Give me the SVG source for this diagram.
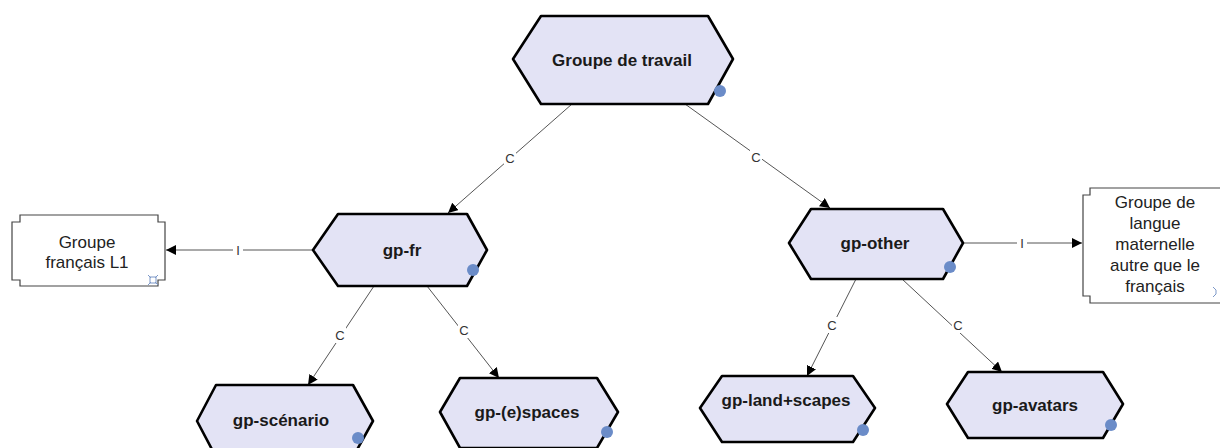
<svg xmlns="http://www.w3.org/2000/svg" width="1220" height="448" viewBox="0 0 1220 448">
<style>
.hex{fill:#e3e3f5;stroke:#000;stroke-width:2.6;stroke-linejoin:round}
.dot{fill:#6b8cc8}
.t{font-family:"Liberation Sans",Arial,sans-serif;font-weight:bold;font-size:17px;fill:#1a1a1a;text-anchor:middle;dominant-baseline:central}
.bt{font-family:"Liberation Sans",Arial,sans-serif;font-size:17px;fill:#222;text-anchor:middle}
.box{fill:#fff;stroke:#444;stroke-width:1.2}
.ln{stroke:#555;stroke-width:1;fill:none}
.lbl{font-family:"Liberation Sans",Arial,sans-serif;font-size:13px;fill:#333;text-anchor:middle;dominant-baseline:central}
.lb{fill:#fff}
</style>
<defs>
<marker id="ah" viewBox="0 0 10 10" refX="10" refY="5" markerWidth="10" markerHeight="10" markerUnits="userSpaceOnUse" orient="auto">
<path d="M0,0 L10,5 L0,10 z" fill="#000"/>
</marker>
</defs>
<g id="connectors">
<line class="ln" x1="572" y1="104" x2="448" y2="213" marker-end="url(#ah)"/>
<rect class="lb" x="504" y="150" width="12" height="16"/><text class="lbl" x="510" y="158">C</text>
<line class="ln" x1="685" y1="104" x2="830" y2="208" marker-end="url(#ah)"/>
<rect class="lb" x="750" y="149" width="12" height="16"/><text class="lbl" x="756" y="157">C</text>
<line class="ln" x1="313" y1="250" x2="166" y2="250" marker-end="url(#ah)"/>
<rect class="lb" x="233" y="242" width="10" height="16"/><text class="lbl" x="238" y="250">I</text>
<line class="ln" x1="963" y1="243" x2="1082" y2="243" marker-end="url(#ah)"/>
<rect class="lb" x="1017" y="235" width="10" height="16"/><text class="lbl" x="1022" y="243">I</text>
<line class="ln" x1="374" y1="286" x2="308" y2="385" marker-end="url(#ah)"/>
<rect class="lb" x="334" y="327" width="12" height="16"/><text class="lbl" x="340" y="335">C</text>
<line class="ln" x1="427" y1="286" x2="499" y2="378" marker-end="url(#ah)"/>
<rect class="lb" x="458" y="322" width="12" height="16"/><text class="lbl" x="464" y="330">C</text>
<line class="ln" x1="856" y1="279" x2="807" y2="376" marker-end="url(#ah)"/>
<rect class="lb" x="826" y="317" width="12" height="16"/><text class="lbl" x="832" y="325">C</text>
<line class="ln" x1="902" y1="279" x2="1002" y2="372" marker-end="url(#ah)"/>
<rect class="lb" x="952" y="317" width="12" height="16"/><text class="lbl" x="958" y="325">C</text>
</g>
<g id="n-travail">
<polygon class="hex" points="513,59 541,16 708,16 733,59 708,104 541,104"/>
<circle class="dot" cx="720" cy="91" r="6"/>
<text class="t" x="622" y="60">Groupe de travail</text>
</g>
<g id="n-fr">
<polygon class="hex" points="313,250 338,214 467,214 487,250 467,286 338,286"/>
<circle class="dot" cx="473" cy="270" r="6"/>
<text class="t" x="402" y="250">gp-fr</text>
</g>
<g id="n-other">
<polygon class="hex" points="789,243 811,209 943,209 963,243 943,279 811,279"/>
<circle class="dot" cx="950" cy="267" r="6"/>
<text class="t" x="875" y="243">gp-other</text>
</g>
<g id="n-l1">
<path class="box" d="M20,215 L158,215 L158,222 L165,222 L165,280 L158,280 L158,286 L20,286 L20,280 L12,280 L12,222 L20,222 Z"/>
<text class="bt" x="87" y="248">Groupe</text>
<text class="bt" x="87" y="268">français L1</text>
<g stroke="#7c98c8" stroke-width="1" fill="none"><rect x="150" y="277" width="6" height="6"/><path d="M148,275 l3,3 M158,275 l-3,3 M148,285 l3,-3 M158,285 l-3,-3"/></g>
</g>
<g id="n-autre">
<path class="box" d="M1090,188 L1222,188 L1222,303 L1090,303 L1090,296 L1083,296 L1083,195 L1090,195 Z"/>
<text class="bt" x="1155" y="208">Groupe de</text>
<text class="bt" x="1155" y="229">langue</text>
<text class="bt" x="1155" y="250">maternelle</text>
<text class="bt" x="1155" y="271">autre que le</text>
<text class="bt" x="1155" y="292">français</text>
<g stroke="#7c98c8" stroke-width="1" fill="none"><path d="M1213,287 l3,3 M1213,297 l3,-3 M1216,290 v4"/></g>
</g>
<g id="n-scenario">
<polygon class="hex" points="197,421 216,385 353,385 373,421 353,457 216,457"/>
<circle class="dot" cx="358" cy="438" r="6"/>
<text class="t" x="281" y="420">gp-scénario</text>
</g>
<g id="n-espaces">
<polygon class="hex" points="440,412 460,378 597,378 618,412 597,448 460,448"/>
<circle class="dot" cx="607" cy="432" r="6"/>
<text class="t" x="527" y="412">gp-(e)spaces</text>
</g>
<g id="n-land">
<polygon class="hex" points="700,408 722,376 853,376 875,408 853,442 722,442"/>
<circle class="dot" cx="863" cy="430" r="6"/>
<text class="t" x="786" y="400">gp-land+scapes</text>
</g>
<g id="n-avatars">
<polygon class="hex" points="947,404 968,372 1103,372 1123,404 1103,438 968,438"/>
<circle class="dot" cx="1111" cy="425" r="6"/>
<text class="t" x="1035" y="405">gp-avatars</text>
</g>
</svg>
